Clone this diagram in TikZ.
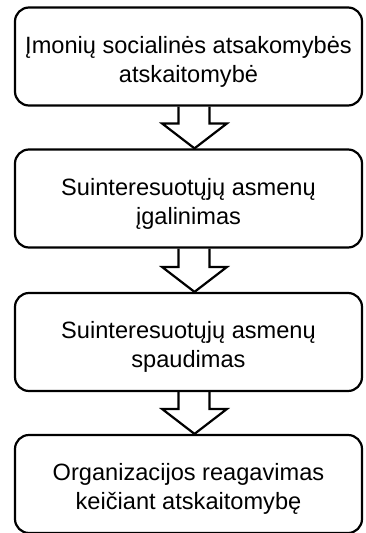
\documentclass[tikz,border=0pt]{standalone}
\usepackage{fontspec}
\setmainfont{Liberation Sans}
\usetikzlibrary{calc}

\tikzset{
  stagebox/.style={draw=black, line width=2.2pt, rounded corners=14pt,
    minimum width=347pt, minimum height=98pt, align=center,
    font=\fontsize{23.6pt}{29pt}\selectfont, inner sep=0pt},
  flowarrow/.style={draw=black, line width=2.2pt, line join=miter}
}

% hollow block arrow from the bottom of one box to the top of the next
\newcommand{\blockarrow}[2]{%
  \draw[flowarrow]
    ($(#1.south)+(-10,0)$) -- ($(#2.north)+(-10,-25)$)
    -- ($(#2.north)+(-26.5,-25)$) -- ($(#2.north)+(6,0)$)
    -- ($(#2.north)+(38.5,-25)$) -- ($(#2.north)+(21,-25)$)
    -- ($(#1.south)+(21,0)$);}

\begin{document}
\begin{tikzpicture}[x=1pt, y=-1pt]
  \useasboundingbox (0,0) rectangle (366,533);

  \node[stagebox] (b1) at (188.5,56.5)
    {\rule{0pt}{27pt}Įmonių socialinės atsakomybės\\atskaitomybė};
  \node[stagebox] (b2) at (188.5,198.5)
    {\rule{0pt}{27pt}Suinteresuotųjų asmenų\\įgalinimas};
  \node[stagebox] (b3) at (188.5,342)
    {\rule{0pt}{27pt}Suinteresuotųjų asmenų\\spaudimas};
  \node[stagebox] (b4) at (188.5,484)
    {\rule{0pt}{27pt}Organizacijos reagavimas\\keičiant atskaitomybę};

  \blockarrow{b1}{b2}
  \blockarrow{b2}{b3}
  \blockarrow{b3}{b4}
\end{tikzpicture}
\end{document}
